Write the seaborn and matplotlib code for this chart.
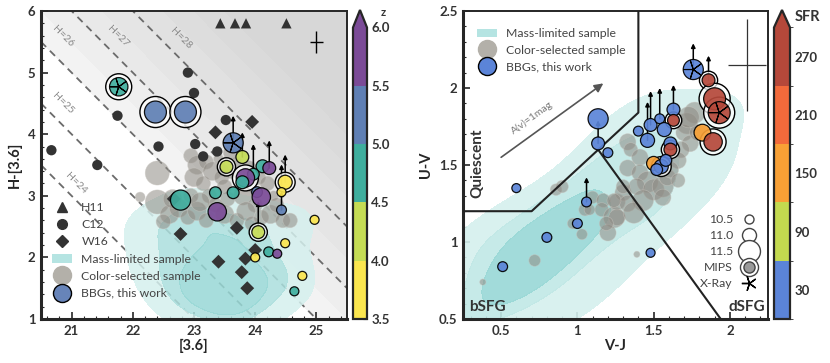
import numpy as np
import pandas as pd
import matplotlib
matplotlib.use('Agg')
import matplotlib.pyplot as plt
import seaborn as sns
from matplotlib.colors import ListedColormap, BoundaryNorm
from matplotlib.lines import Line2D
from matplotlib.patches import Patch
from matplotlib.cm import ScalarMappable
import matplotlib.ticker as mt

sns.set_style('ticks')
plt.rcParams['font.family'] = ['Lato', 'DejaVu Sans']

# ---------------- data: left panel ([3.6] vs H-[3.6]) ----------------
h11_x = [23.43, 23.67, 23.85, 24.51]
h11_y = [5.80, 5.80, 5.80, 5.80]
c12_x = [22.90, 23.00, 21.75, 22.42, 23.02, 20.67, 21.42, 23.52, 23.15, 23.38, 23.48]
c12_y = [5.00, 4.67, 4.30, 3.80, 3.84, 3.74, 3.50, 4.23, 3.64, 3.72, 3.42]
w16_x = [23.95, 23.35, 22.78, 23.40, 23.84, 23.78, 23.87, 24.00, 22.67, 23.70]
w16_y = [4.20, 4.03, 2.38, 1.93, 1.98, 1.76, 1.50, 2.12, 2.95, 2.48]
lg_x = [22.95, 23.05, 23.00, 23.20, 23.15, 23.30, 23.45, 23.50, 23.60, 23.70, 23.90, 24.05, 24.20, 24.30,
        23.25, 23.55, 23.80, 24.00, 22.12, 22.40, 22.40, 22.60, 22.50, 22.75, 22.90, 23.05, 23.20, 23.35,
        23.50, 23.70, 23.85, 24.10, 24.25, 24.45, 24.57, 22.95, 23.60, 23.40, 22.65, 23.10, 23.95, 24.35]
lg_y = [3.65, 3.50, 3.30, 3.55, 3.20, 3.40, 3.30, 3.15, 3.40, 3.55, 3.45, 3.30, 3.20, 3.00,
        3.00, 2.95, 3.00, 2.85, 2.98, 3.37, 2.90, 2.70, 2.58, 2.80, 2.65, 2.75, 2.60, 2.85,
        2.70, 2.60, 2.75, 2.65, 2.70, 2.60, 2.60, 3.00, 3.70, 3.60, 2.95, 2.90, 2.55, 2.85]
lg_s = [110, 180, 180, 110, 110, 180, 110, 110, 110, 50, 110, 110, 110, 50,
        110, 110, 180, 110, 50, 300, 300, 180, 110, 180, 110, 180, 110, 110,
        180, 110, 180, 110, 180, 110, 110, 110, 110, 50, 180, 180, 110, 110]
lk_x = [22.2, 22.3, 22.5, 22.5, 22.7, 22.8, 22.9, 23.0, 23.1, 23.2, 23.3, 23.4, 23.5, 23.5,
        23.6, 23.7, 23.8, 23.9, 24.0, 24.1, 24.2, 24.3, 24.5, 24.6, 24.7, 23.3, 22.9, 23.8]
lk_y = [2.4, 1.9, 2.6, 1.5, 2.1, 1.2, 1.7, 2.5, 1.4, 2.0, 1.1, 1.7, 2.3, 1.3,
        1.9, 1.0, 1.5, 2.2, 1.2, 1.8, 2.5, 1.4, 2.0, 1.6, 2.6, 2.7, 2.8, 2.7]
lb_x = [21.77, 22.37, 22.86, 23.64, 23.79, 23.53, 24.12, 24.23, 23.97, 23.84, 23.79, 23.64, 24.03, 24.10,
        24.49, 24.43, 24.43, 23.35, 23.38, 24.05, 24.97, 24.22, 24.36, 24.00, 24.49, 24.77, 24.64, 22.78]
lb_y = [4.77, 4.36, 4.36, 3.86, 3.63, 3.47, 3.48, 3.45, 3.35, 3.29, 3.22, 3.05, 3.06, 2.98,
        3.22, 3.06, 2.77, 3.05, 2.74, 2.41, 2.61, 2.09, 2.06, 2.00, 2.23, 1.70, 1.45, 2.93]
lb_z = [4.8, 5.2, 5.2, 5.2, 4.2, 4.2, 4.8, 5.7, 4.8, 5.7, 4.8, 4.8, 5.2, 5.7,
        3.7, 3.7, 5.2, 4.8, 5.7, 4.2, 3.7, 4.8, 5.7, 3.7, 3.7, 3.7, 4.8, 4.8]
lb_m = [11.3, 11.5, 11.5, 11.4, 10.9, 10.9, 10.9, 10.9, 10.8, 11.3, 10.9, 10.8, 10.7, 11.3,
        11.0, 10.5, 10.6, 10.8, 11.3, 10.9, 10.5, 10.6, 10.5, 10.5, 10.5, 10.5, 10.5, 11.4]
lb_mips = [1, 1, 1, 0, 0, 1, 0, 0, 0, 1, 0, 0, 0, 0, 1, 0, 0, 0, 0, 1, 0, 0, 0, 0, 0, 0, 0, 0]
lb_xray = [1, 0, 0, 1, 0, 0, 0, 0, 0, 0, 0, 0, 0, 0, 0, 0, 0, 0, 0, 0, 0, 0, 0, 0, 0, 0, 0, 0]
lb_up = [0, 0, 0, 0.44, 0.40, 0, 0, 0.45, 0.49, 0, 0, 0, 0, 0,
         0.45, 0.45, 0.30, 0, 0, 0.50, 0, 0, 0, 0, 0, 0, 0, 0]
h_lines = [24, 25, 26, 27, 28]
h_label_x = [21.07, 20.86, 20.86, 21.75, 22.78]
h_label_y = [3.20, 4.50, 5.58, 5.58, 5.56]
z_bounds = [3.5, 4.0, 4.5, 5.0, 5.5, 6.0]
z_colors = ['#fbe64f', '#c5dc55', '#3fae9e', '#5f7fb4', '#7b4b97']

# ---------------- data: right panel (V-J vs U-V) ----------------
rg_x = [0.38, 0.72, 1.39, 0.86, 0.90, 1.05, 1.10, 1.17, 1.16, 1.24, 1.20, 1.26, 1.30,
        1.33, 1.35, 1.41, 1.33, 1.41, 1.46, 1.39, 1.50, 1.56, 1.59, 1.56, 1.43, 1.33, 1.24,
        1.26, 1.19, 1.37, 1.30, 1.77, 1.72, 1.70, 1.74, 1.79, 1.68, 1.66, 1.61, 1.66, 1.73,
        1.08, 1.03, 0.97]
rg_y = [0.74, 0.88, 0.92, 1.34, 1.36, 1.21, 1.29, 1.27, 1.21, 1.16, 1.06, 1.26, 1.32,
        1.65, 1.60, 1.55, 1.48, 1.45, 1.39, 1.36, 1.34, 1.36, 1.42, 1.29, 1.27, 1.25, 1.27,
        1.16, 1.12, 1.19, 1.36, 1.84, 1.77, 1.71, 1.64, 1.71, 1.60, 1.53, 1.47, 1.40, 1.81,
        1.21, 1.05, 1.12]
rg_s = [20, 70, 20, 70, 80, 80, 80, 100, 100, 230, 140, 140, 140,
        140, 100, 140, 140, 140, 230, 140, 230, 230, 140, 140, 230, 140, 100,
        140, 100, 230, 100, 230, 230, 140, 140, 140, 140, 140, 140, 100, 230,
        60, 60, 60]
rk_x = [0.30, 0.35, 0.40, 0.45, 0.50, 0.55, 0.55, 0.60, 0.65, 0.65, 0.70, 0.70, 0.75, 0.80,
        0.80, 0.85, 0.90, 0.90, 0.95, 1.00, 1.00, 1.05, 1.10, 1.10, 1.20, 1.20, 1.25, 1.30,
        1.35, 1.40, 1.45, 1.50, 1.55, 1.60, 1.70, 1.75, 0.60, 0.75, 0.95, 0.50,
        0.30, 0.35, 1.00, 1.15, 1.60, 1.75, 1.85, 1.30, 1.50, 0.85, 0.60, 1.35]
rk_y = [0.55, 0.75, 0.60, 0.90, 0.70, 0.55, 0.85, 1.00, 0.70, 0.90, 0.80, 1.10, 0.95, 0.75,
        1.15, 1.00, 0.90, 1.25, 1.10, 1.00, 1.35, 1.20, 1.05, 1.45, 1.30, 1.55, 1.15, 1.45,
        1.65, 1.30, 1.55, 1.75, 1.40, 1.60, 1.75, 1.50, 0.65, 0.85, 1.00, 0.80,
        0.95, 1.00, 0.62, 0.78, 1.22, 1.35, 1.70, 1.80, 1.15, 0.60, 1.15, 1.00]
rb_x = [1.76, 1.86, 1.90, 1.93, 1.82, 1.89, 1.63, 1.63, 1.48, 1.54, 1.40, 1.57, 1.46, 1.61,
        1.61, 1.50, 1.55, 1.58, 1.136, 1.136, 1.20, 1.06, 1.00, 0.80, 0.60, 0.51, 1.48, 1.52]
rb_y = [2.12, 2.05, 1.93, 1.84, 1.71, 1.65, 1.86, 1.79, 1.76, 1.80, 1.72, 1.73, 1.66, 1.64,
        1.60, 1.51, 1.49, 1.53, 1.80, 1.64, 1.58, 1.26, 1.12, 1.03, 1.35, 0.84, 0.93, 1.47]
rb_sfr = [20, 260, 260, 260, 160, 260, 30, 260, 30, 30, 30, 30, 30, 30,
          250, 160, 30, 30, 30, 30, 30, 30, 30, 30, 30, 30, 30, 30]
rb_m = [11.4, 10.9, 11.5, 11.5, 11.2, 11.3, 10.9, 10.8, 10.9, 10.6, 10.6, 11.0, 11.0, 10.9,
        10.9, 11.0, 11.0, 10.8, 11.4, 10.9, 10.6, 10.6, 10.6, 10.6, 10.5, 10.6, 10.5, 10.8]
rb_mips = [0, 1, 1, 1, 0, 1, 0, 1, 0, 0, 0, 0, 0, 0, 1, 0, 1, 0, 0, 0, 0, 0, 0, 0, 0, 0, 0, 0]
rb_xray = [1, 0, 0, 1, 0, 0, 0, 0, 0, 0, 0, 0, 0, 0, 0, 0, 0, 0, 0, 0, 0, 0, 0, 0, 0, 0, 0, 0]
rb_up = [0.17, 0.16, 0, 0, 0, 0, 0.16, 0, 0.22, 0.20, 0, 0, 0.25, 0,
         0, 0, 0, 0, 0, 0.15, 0, 0.16, 0, 0, 0, 0, 0, 0]
quies_x = [0.25, 0.70, 1.40, 1.40]
quies_y = [1.20, 1.20, 1.84, 2.50]
div_x = [1.136, 1.94]
div_y = [1.60, 0.50]
sfr_bounds = [0, 60, 120, 180, 240, 300]
sfr_colors = ['#5b84d8', '#c3d94f', '#f8a035', '#f26a3b', '#b5483a']
sfr_ticks = [30, 90, 150, 210, 270]
size_legend_m = [10.5, 11.0, 11.5]

# ---------------- helpers ----------------
def area(m):
    return 42.0 * (250.0 / 42.0) ** (np.asarray(m, dtype=float) - 10.5)

TEAL = ListedColormap(['#d5f0ee', '#c0e8e6', '#abdfdd', '#98d8d6'])
GREY = '#8f8b84'

fig = plt.figure(figsize=(8.3, 3.63), dpi=100)
axL = fig.add_axes([41/830, 44/363, 306/830, 308/363])
caxL = fig.add_axes([353/830, 44/363, 14/830, 309/363])
axR = fig.add_axes([463/830, 44/363, 305/830, 308/363])
caxR = fig.add_axes([774/830, 44/363, 16/830, 309/363])


def draw_bbg(ax, x, y, c, cmap, norm, m, mips, xray, up):
    df = pd.DataFrame({'x': x, 'y': y, 'c': c, 'm': m, 'mips': mips, 'xray': xray, 'up': up})
    df['a'] = area(df['m'])
    for _, r in df[df['up'] > 0].iterrows():
        ax.annotate('', xy=(r.x, r.y + r.up), xytext=(r.x, r.y),
                    arrowprops=dict(arrowstyle='-|>', color='k', lw=1.1,
                                    mutation_scale=6, shrinkA=0, shrinkB=0), zorder=4)
    mp = df[df['mips'] == 1]
    ax.scatter(mp['x'], mp['y'], s=mp['a'] * 2.0, facecolor=(1, 1, 1, 0.75),
               edgecolor='k', linewidth=1.0, zorder=4.5)
    sns.scatterplot(data=df, x='x', y='y', hue='c', palette=cmap, hue_norm=norm,
                    s=df['a'].values, edgecolor='k', linewidth=0.9, alpha=0.92,
                    legend=False, ax=ax, zorder=5)
    xr = df[df['xray'] == 1]
    ax.scatter(xr['x'], xr['y'], s=xr['a'] * 0.9, marker=(5, 2, 90), color='k',
               linewidth=0.8, zorder=6)


# ---------------- left panel ----------------
xx, yy = np.meshgrid(np.linspace(20.5, 25.5, 300), np.linspace(1, 6, 300))
hgrid = xx + yy
shade_lv = [26, 26.5, 27, 27.5, 28, 28.5, 29, 29.5, 40]
shade_cols = ['#f3f3f3', '#eeeeee', '#e9e9e9', '#e5e5e5', '#e1e1e1', '#dddddd', '#dadada', '#d7d7d7']
axL.contourf(xx, yy, hgrid, levels=shade_lv, colors=shade_cols, zorder=0)
xs = np.linspace(20.5, 25.5, 50)
for h in h_lines:
    axL.plot(xs, h - xs, ls=(0, (4, 3)), color='#6b6b6b', lw=1.3, zorder=1)
for h, tx, ty in zip(h_lines, h_label_x, h_label_y):
    axL.text(tx, ty, f'H={h}', rotation=-45, color='#8a8a8a', fontsize=7.5,
             ha='center', va='center', zorder=1)

sns.kdeplot(x=lk_x, y=lk_y, ax=axL, fill=True, levels=4, thresh=0.1, cmap=TEAL,
            bw_adjust=0.9, alpha=0.85, zorder=1.5)
axL.scatter(lg_x, lg_y, s=lg_s, color=GREY, alpha=0.55, edgecolor='#c9c6c0', linewidth=0.5, zorder=2)
sns.scatterplot(x=h11_x, y=h11_y, marker='^', color='#333333', s=55, edgecolor='none', ax=axL, zorder=3)
sns.scatterplot(x=c12_x, y=c12_y, marker='o', color='#333333', s=55, edgecolor='none', ax=axL, zorder=3)
sns.scatterplot(x=w16_x, y=w16_y, marker='D', color='#333333', s=50, edgecolor='none', ax=axL, zorder=3)

cmap_z = ListedColormap(z_colors)
cmap_z.set_over(z_colors[-1])
norm_z = BoundaryNorm(z_bounds, cmap_z.N)
draw_bbg(axL, lb_x, lb_y, lb_z, cmap_z, norm_z, lb_m, lb_mips, lb_xray, lb_up)

axL.errorbar([25.0], [5.5], xerr=[0.1], yerr=[0.18], fmt='none', ecolor='k', elinewidth=1.0, capsize=0, zorder=6)

axL.set_xlim(20.5, 25.5)
axL.set_ylim(1, 6)
axL.set_xticks([21, 22, 23, 24, 25])
axL.set_yticks([1, 2, 3, 4, 5, 6])
axL.set_xlabel('[3.6]', fontsize=10.5, fontweight='bold', labelpad=2)
axL.set_ylabel('H-[3.6]', fontsize=10.5, fontweight='bold', labelpad=4)

legL = [
    Line2D([], [], ls='', marker='^', color='#333333', markersize=7),
    Line2D([], [], ls='', marker='o', color='#333333', markersize=7),
    Line2D([], [], ls='', marker='D', color='#333333', markersize=6),
    Patch(facecolor='#b5e4e2', edgecolor='none'),
    Line2D([], [], ls='', marker='o', markerfacecolor='#b3b0a9', markeredgecolor='#b3b0a9', markersize=13),
    Line2D([], [], ls='', marker='o', markerfacecolor='#6784b9', markeredgecolor='k', markersize=13),
]
lg = axL.legend(legL, ['H11', 'C12', 'W16', 'Mass-limited sample', 'Color-selected sample', 'BBGs, this work'],
                loc='upper left', bbox_to_anchor=(0.02, 0.395), frameon=False, fontsize=8.8,
                labelspacing=0.5, handletextpad=0.8, handlelength=1.6, borderaxespad=0)
for t in lg.get_texts():
    t.set_color('#444444')

# ---------------- right panel ----------------
sns.kdeplot(x=rk_x, y=rk_y, ax=axR, fill=True, levels=4, thresh=0.06, cmap=TEAL,
            bw_adjust=1.05, alpha=0.9, zorder=1.5)
axR.scatter(rg_x, rg_y, s=rg_s, color=GREY, alpha=0.55, edgecolor='#c9c6c0', linewidth=0.5, zorder=2)
axR.plot(quies_x, quies_y, color='#222222', lw=1.5, zorder=3)
axR.plot(div_x, div_y, color='#222222', lw=1.5, zorder=3)

cmap_s = ListedColormap(sfr_colors)
cmap_s.set_over(sfr_colors[-1])
norm_s = BoundaryNorm(sfr_bounds, cmap_s.N)
draw_bbg(axR, rb_x, rb_y, rb_sfr, cmap_s, norm_s, rb_m, rb_mips, rb_xray, rb_up)

axR.errorbar([2.115], [2.15], xerr=[0.125], yerr=[0.3], fmt='none', ecolor='#333333', elinewidth=0.9, capsize=0, zorder=6)
axR.annotate('', xy=(1.17, 2.03), xytext=(0.5, 1.55),
             arrowprops=dict(arrowstyle='-|>', color='#555555', lw=1.2, mutation_scale=13, shrinkA=0, shrinkB=0))
axR.text(0.705, 1.81, 'A(v)=1mag', rotation=36, color='#777777', fontsize=7.5, ha='center', va='center')
axR.text(0.345, 1.51, 'Quiescent', rotation=90, fontsize=11, fontweight='bold', color='#333333', ha='center', va='center')
axR.text(0.29, 0.58, 'bSFG', fontsize=11, fontweight='bold', color='#333333', ha='left', va='center')
axR.text(2.23, 0.58, 'dSFG', fontsize=11, fontweight='bold', color='#333333', ha='right', va='center')

axR.set_xlim(0.25, 2.25)
axR.set_ylim(0.5, 2.5)
axR.set_xticks([0.5, 1, 1.5, 2])
axR.set_xticklabels(['0.5', '1', '1.5', '2'])
axR.set_yticks([0.5, 1, 1.5, 2, 2.5])
axR.set_yticklabels(['0.5', '1', '1.5', '2', '2.5'])
axR.set_xlabel('V-J', fontsize=10.5, fontweight='bold', labelpad=2)
axR.set_ylabel('U-V', fontsize=10.5, fontweight='bold', labelpad=4)

legR1 = axR.legend(legL[3:], ['Mass-limited sample', 'Color-selected sample', 'BBGs, this work'],
                   loc='upper left', bbox_to_anchor=(0.03, 0.96), frameon=False, fontsize=8.8,
                   labelspacing=0.45, handletextpad=0.8, handlelength=1.6, borderaxespad=0)
legR1.legend_handles[2].set_markerfacecolor('#5b84d8')
for t in legR1.get_texts():
    t.set_color('#444444')
axR.add_artist(legR1)

sz_handles = [Line2D([], [], ls='', marker='o', markerfacecolor='white', markeredgecolor='#444444',
                     markersize=float(np.sqrt(area(m)))) for m in size_legend_m]
mips_h = (Line2D([], [], ls='', marker='o', markerfacecolor='white', markeredgecolor='#444444', markersize=13),
          Line2D([], [], ls='', marker='o', markerfacecolor='#9a9a9a', markeredgecolor='#444444', markersize=8))
xray_h = Line2D([], [], ls='', marker=(5, 2, 90), color='k', markersize=11, markeredgewidth=1.0)
legR2 = axR.legend(sz_handles + [mips_h, xray_h], ['10.5', '11.0', '11.5', 'MIPS', 'X-Ray'],
                   loc='lower right', bbox_to_anchor=(0.985, 0.08), frameon=False, fontsize=8.8,
                   markerfirst=False, labelspacing=0.42, handletextpad=0.5, handlelength=1.6,
                   borderaxespad=0)
for t in legR2.get_texts():
    t.set_color('#444444')

# ---------------- styling ----------------
for ax in (axL, axR):
    for side in ('left', 'bottom'):
        ax.spines[side].set_linewidth(2.2)
    for side in ('top', 'right'):
        ax.spines[side].set_linewidth(1.4)
    ax.xaxis.set_minor_locator(mt.AutoMinorLocator())
    ax.yaxis.set_minor_locator(mt.AutoMinorLocator())
    ax.tick_params(which='both', direction='in', top=False, right=False, labelsize=9.5, pad=4)
    ax.tick_params(which='major', length=5, width=1.2)
    ax.tick_params(which='minor', length=2.5, width=0.8)
    for lab in ax.get_xticklabels() + ax.get_yticklabels():
        lab.set_fontweight('bold')
        lab.set_color('#333333')

cbL = fig.colorbar(ScalarMappable(norm=norm_z, cmap=cmap_z), cax=caxL, extend='max',
                   ticks=z_bounds, extendfrac=0.06, format='%.1f')
cbR = fig.colorbar(ScalarMappable(norm=norm_s, cmap=cmap_s), cax=caxR, extend='max',
                   ticks=sfr_ticks, extendfrac=0.06)
for cb in (cbL, cbR):
    cb.outline.set_linewidth(1.6)
    cb.ax.tick_params(direction='in', length=3, width=0.8, labelsize=9.5, pad=3)
    for lab in cb.ax.get_yticklabels():
        lab.set_fontweight('bold')
        lab.set_color('#333333')
fig.text(383/830, 1 - 12/363, 'z', fontsize=8, fontweight='bold', ha='center', va='center', color='#333333')
fig.text(807/830, 1 - 17/363, 'SFR', fontsize=10.5, fontweight='bold', ha='center', va='center', color='#333333')

fig.savefig('out.png', dpi=100)
